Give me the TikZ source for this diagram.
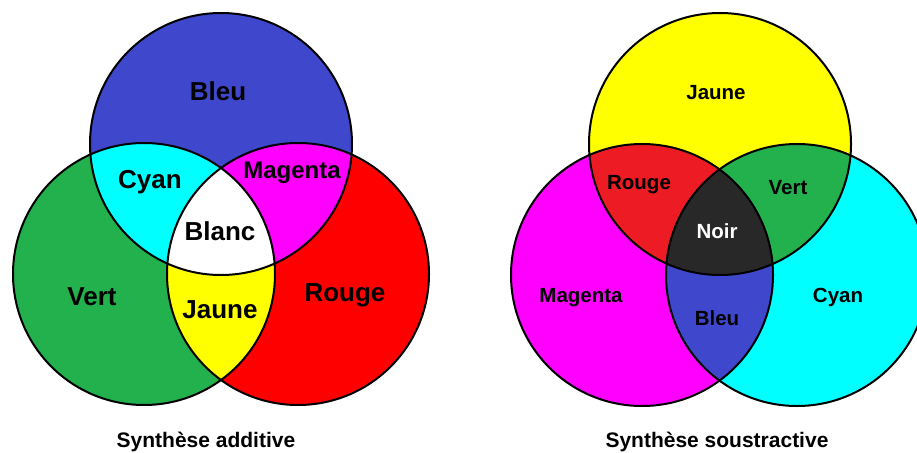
\documentclass[tikz,border=0pt]{standalone}
\usepackage{fontspec}
\setmainfont{Liberation Sans}
\definecolor{cBlue}{RGB}{63,72,204}
\definecolor{cGreen}{RGB}{34,177,76}
\definecolor{cRed}{RGB}{255,0,0}
\definecolor{cRed2}{RGB}{237,28,36}
\definecolor{cCyan}{RGB}{0,255,255}
\definecolor{cMag}{RGB}{255,0,255}
\definecolor{cYel}{RGB}{255,255,0}
\definecolor{cNoir}{RGB}{40,40,40}
\begin{document}
\begin{tikzpicture}[x=1pt,y=-1pt,
  big/.style={font=\fontsize{26}{26}\selectfont\bfseries, text=black},
  small/.style={font=\fontsize{20.5}{20.5}\selectfont\bfseries, text=black},
  caption/.style={font=\fontsize{21}{21}\selectfont\bfseries, anchor=base},
  ring/.style={draw=black, line width=2pt}]
\useasboundingbox (0,0) rectangle (917,452);
\fill[white] (0,0) rectangle (917,452);
% ---------- additive ----------
\coordinate (B) at (221,144);
\coordinate (G) at (144,274);
\coordinate (R) at (298,274);
\def\rr{131pt}
\fill[cBlue] (B) circle[radius=\rr];
\fill[cGreen] (G) circle[radius=\rr];
\fill[cRed] (R) circle[radius=\rr];
\begin{scope}\clip (B) circle[radius=\rr]; \fill[cCyan] (G) circle[radius=\rr];\end{scope}
\begin{scope}\clip (B) circle[radius=\rr]; \fill[cMag] (R) circle[radius=\rr];\end{scope}
\begin{scope}\clip (G) circle[radius=\rr]; \fill[cYel] (R) circle[radius=\rr];\end{scope}
\begin{scope}\clip (B) circle[radius=\rr]; \clip (G) circle[radius=\rr]; \fill[white] (R) circle[radius=\rr];\end{scope}
\draw[ring] (B) circle[radius=\rr];
\draw[ring] (G) circle[radius=\rr];
\draw[ring] (R) circle[radius=\rr];
\node[big] (lbleu) at (218,91) {Bleu};
\node[big] (lcyan) at (150,182) {Cyan};
\node[big, font=\fontsize{24}{24}\selectfont\bfseries] (lmag) at (292,173) {Magenta};
\node[big] (lblanc) at (220,231) {Blanc};
\node[big] (lvert) at (92,297) {Vert};
\node[big] (ljaune) at (220,310) {Jaune};
\node[big] (lrouge) at (345,295) {Rouge};
\node[caption] (capa) at (206,447) {Synthèse additive};
% ---------- subtractive ----------
\coordinate (Y) at (720,144);
\coordinate (M) at (642,275);
\coordinate (C) at (797,275);
\fill[cYel] (Y) circle[radius=\rr];
\fill[cMag] (M) circle[radius=\rr];
\fill[cCyan] (C) circle[radius=\rr];
\begin{scope}\clip (Y) circle[radius=\rr]; \fill[cRed2] (M) circle[radius=\rr];\end{scope}
\begin{scope}\clip (Y) circle[radius=\rr]; \fill[cGreen] (C) circle[radius=\rr];\end{scope}
\begin{scope}\clip (M) circle[radius=\rr]; \fill[cBlue] (C) circle[radius=\rr];\end{scope}
\begin{scope}\clip (Y) circle[radius=\rr]; \clip (M) circle[radius=\rr]; \fill[cNoir] (C) circle[radius=\rr];\end{scope}
\draw[ring] (Y) circle[radius=\rr];
\draw[ring] (M) circle[radius=\rr];
\draw[ring] (C) circle[radius=\rr];
\node[small] (sjaune) at (716,93) {Jaune};
\node[small] (srouge) at (639,185) {Rouge};
\node[small] (svert) at (788,188) {Vert};
\node[small, text=white] (snoir) at (717,231) {Noir};
\node[small] (smag) at (581,298) {Magenta};
\node[small] (sbleu) at (717,318) {Bleu};
\node[small] (scyan) at (838,297) {Cyan};
\node[caption] (caps) at (717,447) {Synthèse soustractive};
\end{tikzpicture}
\end{document}
